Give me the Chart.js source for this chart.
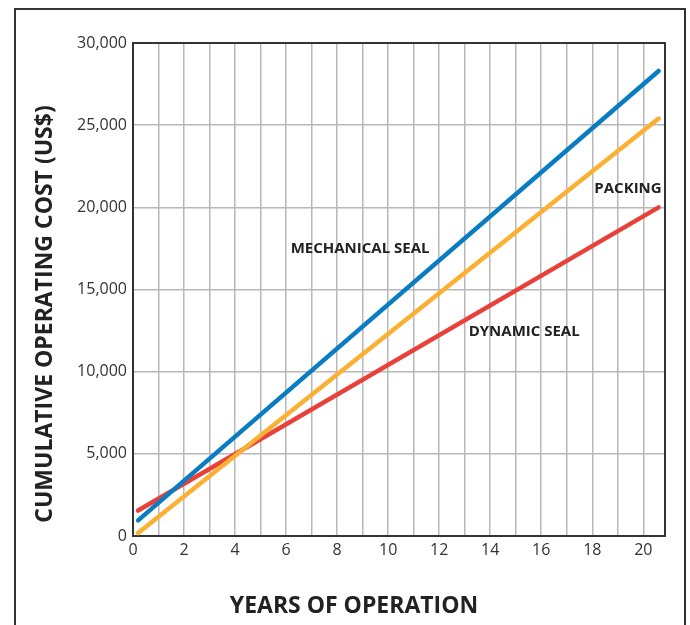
<!DOCTYPE html>
<html>
<head>
<meta charset="utf-8">
<script src="https://cdn.jsdelivr.net/npm/chart.js@4/dist/chart.umd.min.js"></script>
<style>
  html, body { margin: 0; padding: 0; background: #fff; }
  #wrap { position: relative; width: 690px; height: 625px; }
</style>
</head>
<body>
<div id="wrap"><canvas id="c"></canvas></div>
<script>
// ---- data ----
const years = [0.2, 20.6];
const mechanicalSeal = [950, 28300];
const packing = [180, 25400];
const dynamicSeal = [1550, 20000];
const xTickValues = [0,1,2,3,4,5,6,7,8,9,10,11,12,13,14,15,16,17,18,19,20];
const yTickValues = [0, 5000, 10000, 15000, 20000, 25000, 30000];
const seriesNames = ['MECHANICAL SEAL', 'PACKING', 'DYNAMIC SEAL'];
const labelAnchors = [[8.9, 17470], [19.4, 21120], [15.33, 12420]];
const xTitle = 'YEARS OF OPERATION';
const yTitle = 'CUMULATIVE OPERATING COST (US$)';

const pts = (vals) => vals.map((v, i) => ({ x: years[i], y: v }));

const FONT = '"Open Sans", "Noto Sans", sans-serif';

const decor = {
  id: 'decor',
  beforeDatasetsDraw(chart) {
    const { ctx, chartArea: a } = chart;
    ctx.save();
    ctx.strokeStyle = '#333';
    ctx.lineWidth = 2;
    ctx.strokeRect(a.left, a.top, a.right - a.left, a.bottom - a.top);
    ctx.restore();
  },
  afterDraw(chart) {
    const { ctx, scales } = chart;
    ctx.save();
    // outer frame
    ctx.strokeStyle = '#333';
    ctx.lineWidth = 2;
    ctx.strokeRect(15, 9, 670, 640);
    // series labels
    ctx.fillStyle = '#222';
    ctx.font = 'bold 15px ' + FONT;
    ctx.textAlign = 'center';
    ctx.textBaseline = 'middle';
    seriesNames.forEach((n, i) => {
      const px = scales.x.getPixelForValue(labelAnchors[i][0]);
      const py = scales.y.getPixelForValue(labelAnchors[i][1]);
      ctx.fillText(n, px, py);
    });
    // axis titles
    ctx.font = 'bold 23px ' + FONT;
    ctx.fillText(xTitle, 354, 606);
    ctx.translate(45, 314);
    ctx.rotate(-Math.PI / 2);
    ctx.fillText(yTitle, 0, 0);
    ctx.restore();
  }
};

new Chart(document.getElementById('c'), {
  type: 'line',
  data: {
    datasets: [
      { label: seriesNames[0], data: pts(mechanicalSeal), borderColor: '#0a7cc2' },
      { label: seriesNames[1], data: pts(packing), borderColor: '#fbb034' },
      { label: seriesNames[2], data: pts(dynamicSeal), borderColor: '#e9413a' }
    ]
  },
  options: {
    responsive: true,
    maintainAspectRatio: false,
    animation: false,
    layout: { padding: { left: 0, top: 43, right: 25, bottom: 0 } },
    elements: {
      line: { borderWidth: 4.5, borderCapStyle: 'round', tension: 0, fill: false },
      point: { radius: 0, hoverRadius: 0 }
    },
    plugins: { legend: { display: false }, tooltip: { enabled: false } },
    scales: {
      x: {
        type: 'linear',
        min: 0,
        max: 20.85,
        afterBuildTicks: (s) => { s.ticks = xTickValues.map(v => ({ value: v })); },
        afterFit: (s) => { s.height = 89; },
        grid: { color: '#b8b8b8', lineWidth: 1.5, drawTicks: false },
        border: { color: '#333', width: 2 },
        ticks: {
          padding: 5,
          autoSkip: false,
          maxRotation: 0,
          color: '#333',
          font: { family: FONT, size: 16 },
          callback: (v) => (v % 2 === 0 ? String(v) : '')
        }
      },
      y: {
        type: 'linear',
        min: 0,
        max: 30000,
        afterBuildTicks: (s) => { s.ticks = yTickValues.map(v => ({ value: v })); },
        afterFit: (s) => { s.width = 133; },
        grid: { color: '#b8b8b8', lineWidth: 1.5, drawTicks: false },
        border: { color: '#333', width: 2 },
        ticks: {
          padding: 6,
          color: '#333',
          font: { family: FONT, size: 16 },
          callback: (v) => v.toLocaleString('en-US')
        }
      }
    }
  },
  plugins: [decor]
});
</script>
</body>
</html>
